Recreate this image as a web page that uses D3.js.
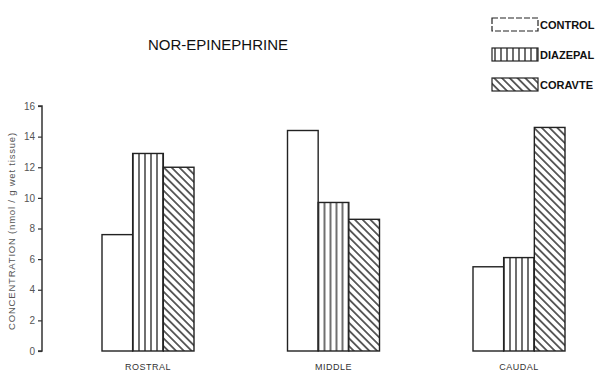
<!DOCTYPE html>
<html><head><meta charset="utf-8">
<script src="https://cdn.jsdelivr.net/npm/d3@7"></script>
<style>body{margin:0;background:#fff}svg{display:block}</style>
</head><body>
<script>
const categories = ["ROSTRAL", "MIDDLE", "CAUDAL"];
const seriesNames = ["CONTROL", "DIAZEPAL", "CORAVTE"];
const control = [7.6, 14.4, 5.5];
const diazepal = [12.9, 9.7, 6.1];
const coravte = [12.0, 8.6, 14.6];
const yTicks = [0, 2, 4, 6, 8, 10, 12, 14, 16];
const title = "NOR-EPINEPHRINE";
const yLabel = "CONCENTRATION (nmol / g wet tissue)";

const W = 609, H = 381;
const svg = d3.select("body").append("svg").attr("width", W).attr("height", H);
const defs = svg.append("defs");
const pv = defs.append("pattern").attr("id","vert").attr("patternUnits","userSpaceOnUse").attr("width",6).attr("height",10);
pv.append("rect").attr("width",6).attr("height",10).attr("fill","#fff");
pv.append("line").attr("x1",3).attr("x2",3).attr("y1",0).attr("y2",10).attr("stroke","#222").attr("stroke-width",1.3);
const pd = defs.append("pattern").attr("id","diag").attr("patternUnits","userSpaceOnUse").attr("width",5.5).attr("height",5.5).attr("patternTransform","rotate(45)");
pd.append("rect").attr("width",5.5).attr("height",5.5).attr("fill","#fff");
pd.append("line").attr("x1",0).attr("x2",5.5).attr("y1",2.75).attr("y2",2.75).attr("stroke","#222").attr("stroke-width",1.4);

const fills = ["#fff", "url(#vert)", "url(#diag)"];
const data = [control, diazepal, coravte];

const y = d3.scaleLinear().domain([0, 16]).range([351, 106]);
const xc = d3.scalePoint().domain(categories).range([148, 519]);
const groupW = 92;
const xs = d3.scaleBand().domain(seriesNames).range([-groupW/2, groupW/2]).padding(0);

// axis
const ax = svg.append("g").attr("transform","translate(42,0)")
  .call(d3.axisLeft(y).tickValues(yTicks).tickSize(4).tickPadding(3).tickFormat(d3.format("d")));
ax.select(".domain").attr("stroke","#333").attr("stroke-width",1.5).attr("d", `M-4,${y(0)}H0V${y(16)}H-4`);
ax.selectAll(".tick line").attr("stroke","#333").attr("stroke-width",1.2);
ax.selectAll(".tick text").attr("font-family","Arial, Liberation Sans, sans-serif").attr("font-size",10).attr("fill","#555");

svg.append("text").attr("transform",`translate(15,${231}) rotate(-90)`).attr("text-anchor","middle")
  .attr("font-family","Arial, Liberation Sans, sans-serif").attr("font-size",9.5).attr("letter-spacing",0.8)
  .attr("fill","#555").text(yLabel);

// bars
categories.forEach((c, ci) => {
  const g = svg.append("g").attr("transform",`translate(${xc(c)},0)`);
  seriesNames.forEach((s, si) => {
    g.append("rect").attr("x", xs(s)).attr("width", xs.bandwidth())
      .attr("y", y(data[si][ci])).attr("height", y(0) - y(data[si][ci]))
      .attr("fill", fills[si]).attr("stroke","#222").attr("stroke-width",1.4);
  });
  svg.append("text").attr("x", xc(c)).attr("y", 370).attr("text-anchor","middle")
    .attr("font-family","Arial, Liberation Sans, sans-serif").attr("font-size",9).attr("fill","#333")
    .attr("letter-spacing",0.5).text(c);
});

svg.append("text").attr("x", 218).attr("y", 50).attr("text-anchor","middle")
  .attr("font-family","Arial, Liberation Sans, sans-serif").attr("font-size",15).attr("fill","#111").text(title);

// legend
const legY = [18, 48, 78];
seriesNames.forEach((s, si) => {
  svg.append("rect").attr("x",492).attr("y",legY[si]).attr("width",46).attr("height",13)
    .attr("fill",fills[si]).attr("stroke","#222").attr("stroke-width",1.2)
    .attr("stroke-dasharray", si === 0 ? "6,2" : null);
  svg.append("text").attr("x",540).attr("y",legY[si]+11)
    .attr("font-family","Arial, Liberation Sans, sans-serif").attr("font-weight","bold").attr("font-size",11)
    .attr("fill","#111").text(s);
});
</script>
</body></html>
